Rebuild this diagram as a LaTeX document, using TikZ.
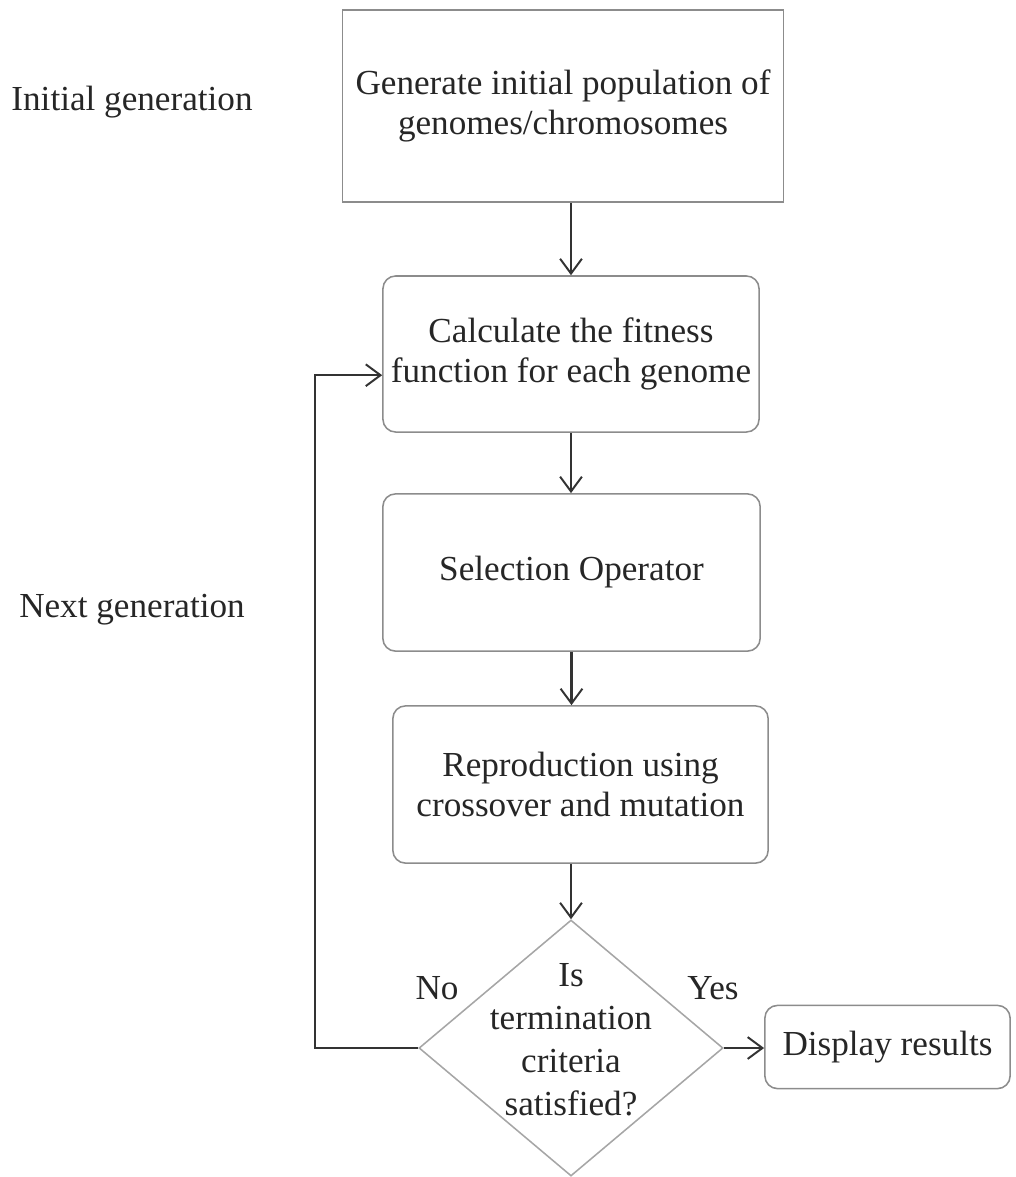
\documentclass[tikz,border=0pt]{standalone}
\usepackage{fontspec}
\setmainfont{Liberation Serif}
\usetikzlibrary{shapes.geometric,arrows.meta}

\begin{document}
\begin{tikzpicture}[x=0.025cm, y=-0.025cm,
    >={Straight Barb[length=10.5pt, width=15.5pt, line width=1.4pt]},
    every node/.style={font=\fontsize{25}{29}\selectfont, text=black!85},
    box/.style={draw=black!45, line width=1.1pt, align=center, inner sep=0pt},
    rbox/.style={box, rounded corners=9pt},
    decision/.style={draw=black!35, line width=1.1pt, diamond, inner sep=0pt,
        minimum width=7.6cm, minimum height=6.4cm},
    flow/.style={->, draw=black!80, line width=1.6pt}]
\useasboundingbox (0,0) rectangle (1016,1177);

% Caixas
\node[box, minimum width=11.03cm, minimum height=4.8cm] (gen) at (563,106)
    {Generate initial population of\\genomes/chromosomes};
\node[rbox, minimum width=9.4cm, minimum height=3.9cm] (fit) at (571,354)
    {Calculate the fitness\\function for each genome};
\node[rbox, minimum width=9.43cm, minimum height=3.93cm] (sel) at (571.5,572.5)
    {Selection Operator};
\node[rbox, minimum width=9.38cm, minimum height=3.93cm] (rep) at (580.5,784.5)
    {Reproduction using\\crossover and mutation};

% Decisao
\node[decision] (dec) at (571,1048) {};
\node[align=center, font=\fontsize{25}{30.5}\selectfont] (dectxt) at (571,1040)
    {Is\\termination\\criteria\\satisfied?};
\node[rbox, minimum width=6.13cm, minimum height=2.08cm] (disp) at (887.5,1047)
    {Display results};

% Conexoes
\draw[flow] (gen.south -| fit.north) -- (fit.north);
\draw[flow] (fit.south) -- (fit.south |- sel.north);
\draw[flow] (sel.south) -- (sel.south |- rep.north);
\draw[flow] (rep.south -| dec.north) -- (dec.north);
\draw[flow] (dec.east) -- (dec.east -| disp.west);
\coordinate (loop) at (315,1048);
\draw[flow] (dec.west) -- (loop) |- ([yshift=-0.53cm]fit.west);

% Labels
\node (no) at (437,988) {No};
\node (yes) at (713,988) {Yes};
\node (initlbl) at (132,102) {Initial generation};
\node (nextlbl) at (132,610) {Next generation};
\end{tikzpicture}
\end{document}
